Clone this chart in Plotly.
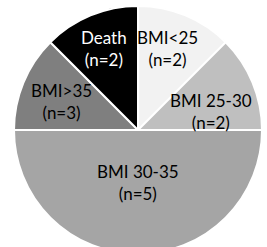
import plotly.graph_objects as go

categories = ["BMI<25", "BMI 25-30", "BMI 30-35", "BMI>35", "Death"]
counts = [2, 2, 5, 3, 2]
# slice sizes as drawn in the picture (share of the circle, %)
shares = [12.5, 12.5, 50, 12.5, 12.5]

colors = ["#f2f2f2", "#bfbfbf", "#a5a5a5", "#7f7f7f", "#000000"]
text_colors = ["#000000", "#000000", "#000000", "#000000", "#ffffff"]
# label centres in pixels (x from left, y from top)
label_px = [(167, 48), (211, 111), (138, 182), (61, 101), (104, 48)]

W, H = 267, 256

fig = go.Figure(go.Pie(
    labels=categories,
    values=shares,
    textinfo="none",
    sort=False,
    direction="clockwise",
    rotation=0,
    marker=dict(colors=colors, line=dict(color="#ffffff", width=2)),
    hoverinfo="skip",
    domain=dict(x=[14 / W, 262 / W], y=[(H - 254) / H, (H - 6) / H]),
))

for cat, n, col, (px, py) in zip(categories, counts, text_colors, label_px):
    fig.add_annotation(
        text=f"{cat}<br>(n={n})",
        x=px / W, y=1 - py / H, xref="paper", yref="paper",
        xanchor="center", yanchor="middle", showarrow=False,
        font=dict(family="Lato, Open Sans, sans-serif", size=17, color=col),
    )

fig.update_layout(
    width=W, height=H,
    margin=dict(l=0, r=0, t=0, b=0),
    showlegend=False,
    paper_bgcolor="#ffffff",
    plot_bgcolor="#ffffff",
)
fig.write_html(
    "out.html",
    config={"displayModeBar": False},
    post_script="document.body.style.margin='0';document.body.style.overflow='hidden';"
                "document.documentElement.style.overflow='hidden';",
)
